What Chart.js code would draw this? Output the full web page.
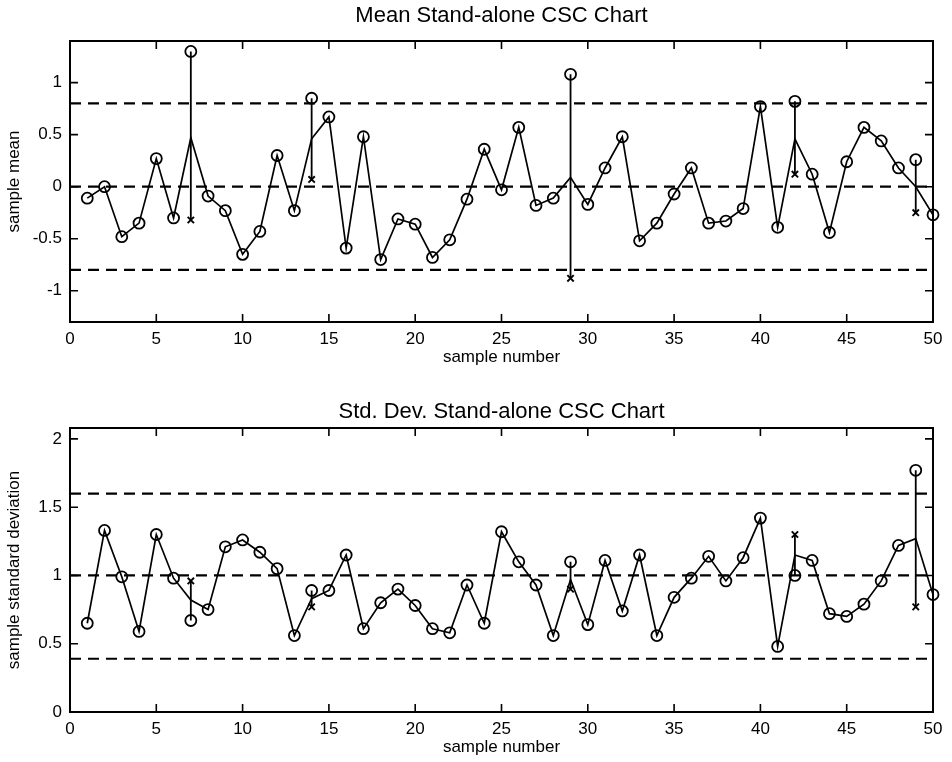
<!DOCTYPE html>
<html>
<head>
<meta charset="utf-8">
<script src="https://cdn.jsdelivr.net/npm/chart.js@4.4.1/dist/chart.umd.min.js"></script>
<style>
  body { margin: 0; background: #fff; }
  #wrap { position: relative; width: 952px; height: 762px; }
  canvas { position: absolute; left: 0; }
</style>
</head>
<body>
<div id="wrap">
  <canvas id="mean_chart" width="952" height="372" style="top:0px"></canvas>
  <canvas id="sd_chart" width="952" height="390" style="top:372px"></canvas>
</div>
<script>
// sample numbers 1..50
var samples = [1,2,3,4,5,6,7,8,9,10,11,12,13,14,15,16,17,18,19,20,21,22,23,24,25,
               26,27,28,29,30,31,32,33,34,35,36,37,38,39,40,41,42,43,44,45,46,47,48,49,50];
var xTicks = [0,5,10,15,20,25,30,35,40,45,50];

// mean chart - circles (observed)
var meanObs = [-0.11,0.00,-0.48,-0.35,0.27,-0.30,1.30,-0.09,-0.23,-0.65,
               -0.43,0.30,-0.23,0.85,0.67,-0.59,0.48,-0.70,-0.31,-0.36,
               -0.68,-0.51,-0.12,0.36,-0.03,0.57,-0.18,-0.11,1.08,-0.17,
               0.18,0.48,-0.52,-0.35,-0.07,0.18,-0.35,-0.33,-0.21,0.77,
               -0.39,0.82,0.12,-0.44,0.24,0.57,0.44,0.18,0.26,-0.27];
// mean chart - connecting line (differs at the flagged samples)
var meanLine = [-0.11,0.00,-0.48,-0.35,0.27,-0.30,0.47,-0.09,-0.23,-0.65,
                -0.43,0.30,-0.23,0.46,0.67,-0.59,0.48,-0.70,-0.31,-0.36,
                -0.68,-0.51,-0.12,0.36,-0.03,0.57,-0.18,-0.11,0.09,-0.17,
                0.18,0.48,-0.52,-0.35,-0.07,0.18,-0.35,-0.33,-0.21,0.77,
                -0.39,0.46,0.12,-0.44,0.24,0.57,0.44,0.18,0.00,-0.27];
var meanCrossX = [7, 14, 29, 42, 49];
var meanCrossY = [-0.32, 0.07, -0.88, 0.12, -0.25];
var meanLimits = [0.8, 0, -0.8];
var meanTicks = [-1, -0.5, 0, 0.5, 1];

// std dev chart
var sdObs = [0.65,1.33,0.99,0.59,1.30,0.98,0.67,0.75,1.21,1.26,
             1.17,1.05,0.56,0.89,0.89,1.15,0.61,0.80,0.90,0.78,
             0.61,0.58,0.93,0.65,1.32,1.10,0.93,0.56,1.10,0.64,
             1.11,0.74,1.15,0.56,0.84,0.98,1.14,0.96,1.13,1.42,
             0.48,1.00,1.11,0.72,0.70,0.79,0.96,1.22,1.77,0.86];
var sdLine = [0.65,1.33,0.99,0.59,1.30,0.98,0.82,0.75,1.21,1.26,
              1.17,1.05,0.56,0.83,0.89,1.15,0.61,0.80,0.90,0.78,
              0.61,0.58,0.93,0.65,1.32,1.10,0.93,0.56,0.97,0.64,
              1.11,0.74,1.15,0.56,0.84,0.98,1.14,0.96,1.13,1.42,
              0.48,1.15,1.11,0.72,0.70,0.79,0.96,1.22,1.27,0.86];
var sdCrossX = [7, 14, 29, 42, 49];
var sdCrossY = [0.96, 0.77, 0.90, 1.30, 0.77];
var sdLimits = [1.6, 1.0, 0.39];
var sdTicks = [0, 0.5, 1, 1.5, 2];

var FONT = "'Liberation Sans', Arial, Helvetica, sans-serif";

// box + inward ticks on all four sides (matlab look)
var boxPlugin = {
    id: 'box',
    afterLayout: function (chart) {
        // center the title over the plot area, not the whole canvas
        if (chart.titleBlock) {
            chart.titleBlock.left = chart.chartArea.left;
            chart.titleBlock.right = chart.chartArea.right;
        }
    },
    afterDatasetsDraw: function (chart) {
        var ctx = chart.ctx;
        var a = chart.chartArea;
        var xs = chart.scales.x, ys = chart.scales.y;
        ctx.save();
        ctx.strokeStyle = '#000';
        ctx.lineWidth = 2;
        ctx.strokeRect(a.left, a.top, a.right - a.left, a.bottom - a.top);
        ctx.beginPath();
        xs.ticks.forEach(function (t) {
            var px = xs.getPixelForValue(t.value);
            ctx.moveTo(px, a.bottom); ctx.lineTo(px, a.bottom - 8);
            ctx.moveTo(px, a.top); ctx.lineTo(px, a.top + 8);
        });
        ys.ticks.forEach(function (t) {
            var py = ys.getPixelForValue(t.value);
            ctx.moveTo(a.left, py); ctx.lineTo(a.left + 8, py);
            ctx.moveTo(a.right, py); ctx.lineTo(a.right - 8, py);
        });
        ctx.lineWidth = 1.6;
        ctx.stroke();
        ctx.restore();
    }
};

function makeChart(id, title, yLabel, obs, line, crossX, crossY, limits, yTicks, yMin, yMax, titlePad) {
    var datasets = [];
    // control limits
    limits.forEach(function (v) {
        datasets.push({
            data: [{x: 0, y: v}, {x: 50, y: v}],
            borderColor: '#000', borderWidth: 2.2, borderDash: [11, 7],
            pointRadius: 0, order: 5
        });
    });
    // vertical segments circle -> cross
    crossX.forEach(function (s, i) {
        datasets.push({
            data: [{x: s, y: obs[s - 1]}, {x: s, y: crossY[i]}],
            borderColor: '#000', borderWidth: 1.8,
            pointRadius: 0, order: 4
        });
    });
    // connecting line
    datasets.push({
        data: samples.map(function (s, i) { return {x: s, y: line[i]}; }),
        borderColor: '#000', borderWidth: 1.7,
        pointRadius: 0, order: 3
    });
    // circles
    datasets.push({
        data: samples.map(function (s, i) { return {x: s, y: obs[i]}; }),
        showLine: false,
        pointStyle: 'circle', pointRadius: 5.5,
        pointBorderColor: '#000', pointBackgroundColor: 'rgba(255,255,255,0)',
        pointBorderWidth: 1.8, clip: false, order: 2
    });
    // crosses
    datasets.push({
        data: crossX.map(function (s, i) { return {x: s, y: crossY[i]}; }),
        showLine: false,
        pointStyle: 'crossRot', pointRadius: 4.5,
        pointBorderColor: '#000', pointBorderWidth: 1.9, clip: false, order: 1
    });

    return new Chart(document.getElementById(id), {
        type: 'line',
        data: { datasets: datasets },
        plugins: [boxPlugin],
        options: {
            responsive: false,
            animation: false,
            devicePixelRatio: 1,
            layout: { padding: { left: 0, right: 19, top: 0, bottom: 0 } },
            plugins: {
                legend: { display: false },
                tooltip: { enabled: false },
                title: {
                    display: true, text: title, color: '#000',
                    font: { family: FONT, size: 22, weight: 'normal' },
                    padding: titlePad
                }
            },
            scales: {
                x: {
                    type: 'linear', position: 'bottom', min: 0, max: 50,
                    grid: { display: false, drawTicks: false },
                    border: { display: false },
                    afterBuildTicks: function (s) { s.ticks = xTicks.map(function (v) { return {value: v}; }); },
                    afterFit: function (s) { s.height = 50; },
                    ticks: { color: '#000', padding: 7, maxRotation: 0, font: { family: FONT, size: 17 } },
                    title: { display: true, text: 'sample number', color: '#000', font: { family: FONT, size: 17 }, padding: { top: 4, bottom: 4 } }
                },
                y: {
                    type: 'linear', position: 'left', min: yMin, max: yMax,
                    grid: { display: false, drawTicks: false },
                    border: { display: false },
                    afterBuildTicks: function (s) { s.ticks = yTicks.map(function (v) { return {value: v}; }); },
                    afterFit: function (s) { s.width = 70; },
                    ticks: {
                        color: '#000', padding: 8, font: { family: FONT, size: 17 },
                        callback: function (v) { return String(v); }
                    },
                    title: { display: true, text: yLabel, color: '#000', font: { family: FONT, size: 17 }, padding: { top: 4, bottom: 4 } }
                }
            }
        }
    });
}

var meanChart = makeChart('mean_chart', 'Mean Stand-alone CSC Chart', 'sample mean',
    meanObs, meanLine, meanCrossX, meanCrossY, meanLimits, meanTicks, -1.3, 1.4, { top: 3, bottom: 11.6 });

var sdChart = makeChart('sd_chart', 'Std. Dev. Stand-alone CSC Chart', 'sample standard deviation',
    sdObs, sdLine, sdCrossX, sdCrossY, sdLimits, sdTicks, 0, 2.08, { top: 26.8, bottom: 2.8 });
</script>
</body>
</html>
